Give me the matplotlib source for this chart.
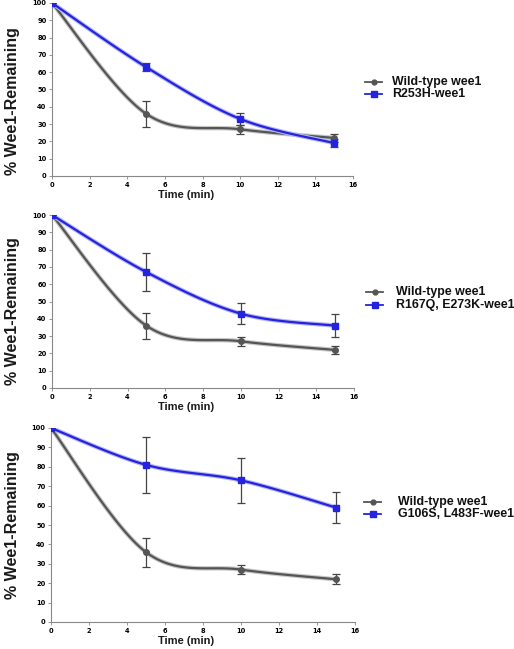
import numpy as np
import matplotlib
matplotlib.use("Agg")
import matplotlib.pyplot as plt
import matplotlib.patheffects as pe

time = [0, 5, 10, 15]
wt_vals = [100, 36, 27, 22]
wt_err = [0, 7.5, 2.5, 2.5]
mut_labels = ["R253H-wee1", "R167Q, E273K-wee1", "G106S, L483F-wee1"]
mut_vals = [[100, 63, 33, 19], [100, 67, 43, 36], [100, 81, 73, 59]]
mut_err = [[0, 2.5, 3.5, 2.5], [0, 11, 6, 6.5], [0, 14.5, 11.5, 8]]
wt_label = "Wild-type wee1"

def smooth(x, y, n=40):
    x = np.asarray(x, float); y = np.asarray(y, float)
    P = np.column_stack([x, y])
    out = []
    for i in range(len(P) - 1):
        p0 = P[i - 1] if i > 0 else P[i]
        p1 = P[i]; p2 = P[i + 1]
        p3 = P[i + 2] if i + 2 < len(P) else P[i + 1]
        c1 = p1 + (p2 - p0) / 6.0
        c2 = p2 - (p3 - p1) / 6.0
        t = np.linspace(0, 1, n)[:, None]
        seg = ((1 - t) ** 3) * p1 + 3 * ((1 - t) ** 2) * t * c1 + 3 * (1 - t) * t ** 2 * c2 + t ** 3 * p2
        out.append(seg if i == 0 else seg[1:])
    S = np.vstack(out)
    return S[:, 0], S[:, 1]

W, H = 514, 649
fig = plt.figure(figsize=(W / 100, H / 100), dpi=100)
SANS = "Liberation Sans"

# axes pixel boxes: (left, right, top, bottom)
boxes = [(52, 353, 3, 176), (52, 354, 215, 388), (51, 355, 428, 622)]
legend_y = [(82, 94), (292, 305), (502, 514)]
legend_tx = [392, 396, 398]
legend_lx = [365, 366, 364]
ylabel_cy = [101, 311, 525]

for k, (l, r, t, b) in enumerate(boxes):
    ax = fig.add_axes([l / W, 1 - b / H, (r - l) / W, (b - t) / H])
    for vals, err, col, halo, mk, ms, lab in [
        (wt_vals, wt_err, "#555555", "#c8c8c8", "o", 4, wt_label),
        (mut_vals[k], mut_err[k], "#2323e0", "#b8b8f0", "s", 5, mut_labels[k])]:
        sx, sy = smooth(time, vals)
        ax.plot(sx, sy, color=col, lw=1.6, solid_capstyle="round", zorder=3,
                path_effects=[pe.Stroke(linewidth=3.2, foreground=halo), pe.Normal()])
        ax.errorbar(time, vals, yerr=err, fmt="none", ecolor="#444444", elinewidth=0.9,
                    capsize=3, capthick=0.9, zorder=4)
        ax.plot(time, vals, ls="none", marker=mk, ms=ms, color=col, zorder=5, label=lab)
    ax.set_xlim(0, 16)
    ax.set_ylim(0, 100)
    ax.set_xticks(range(0, 17, 2))
    ax.set_yticks(range(0, 101, 10))
    for s in ["top", "right"]:
        ax.spines[s].set_visible(False)
    for s in ["left", "bottom"]:
        ax.spines[s].set_color("#888888")
        ax.spines[s].set_linewidth(0.8)
    ax.tick_params(axis="both", labelsize=4.8, length=2, width=0.6, color="#888888", pad=2)
    for lbl in ax.get_xticklabels() + ax.get_yticklabels():
        lbl.set_fontweight("bold")
    ax.set_xlabel("Time (min)", fontsize=8, fontweight="bold", family=SANS, color="#1a1a1a")
    ax.xaxis.set_label_coords((186 - l) / (r - l), -19 / (b - t))
    ax.xaxis.label.set_va("center")
    fig.text(13 / W, 1 - ylabel_cy[k] / H, "% Wee1-Remaining", rotation=90, ha="center",
             va="center", fontsize=11.5, fontweight="bold", color="#1a1a1a", family=SANS)
    # legend
    y1, y2 = legend_y[k]
    lx = legend_lx[k]
    for yy, col, mk, ms, lab in [(y1, "#555555", "o", 3.5, wt_label),
                                 (y2, "#2323e0", "s", 4.5, mut_labels[k])]:
        fig.add_artist(plt.Line2D([lx / W, (lx + 17) / W], [1 - yy / H, 1 - yy / H], color=col, lw=1.3))
        fig.add_artist(plt.Line2D([(lx + 8.5) / W], [1 - yy / H], color=col, marker=mk, ms=ms))
        fig.text(legend_tx[k] / W, 1 - yy / H, lab, ha="left", va="center", fontsize=8.9,
                 fontweight="bold", color="#111111", family=SANS)

fig.savefig("out.png", dpi=100, facecolor="white")
